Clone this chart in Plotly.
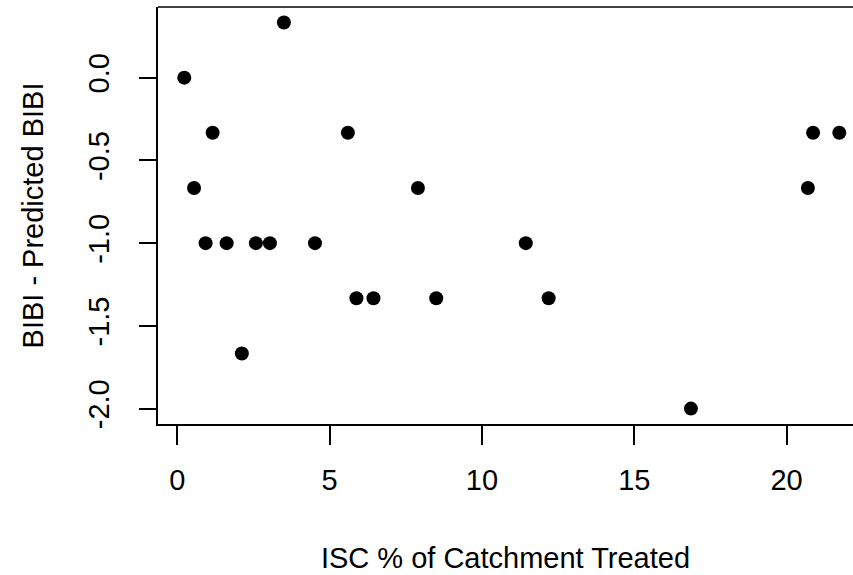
import plotly.graph_objects as go

# Data
isc_pct_treated = [0.23, 0.55, 0.93, 1.16, 1.62, 2.12, 2.58, 3.04, 3.50, 4.52,
                   5.60, 5.88, 6.44, 7.90, 8.50, 11.44, 12.19, 16.86, 20.70, 20.87, 21.73]
bibi_minus_pred = [0.0, -0.667, -1.0, -0.333, -1.0, -1.667, -1.0, -1.0, 0.333, -1.0,
                   -0.333, -1.333, -1.333, -0.667, -1.333, -1.0, -1.333, -2.0, -0.667, -0.333, -0.333]

x_ticks = [0, 5, 10, 15, 20]
x_tick_labels = ["0", "5", "10", "15", "20"]
y_ticks = [0.0, -0.5, -1.0, -1.5, -2.0]
y_tick_labels = ["0.0", "-0.5", "-1.0", "-1.5", "-2.0"]

x_title = "ISC % of Catchment Treated"
y_title = "BIBI - Predicted BIBI"

FONT = "Liberation Sans, Arial, sans-serif"
FS = 29
LW = 1.6

fig = go.Figure()
fig.add_trace(go.Scatter(
    x=isc_pct_treated, y=bibi_minus_pred, mode="markers",
    marker=dict(color="black", size=14, line=dict(width=0)),
    showlegend=False, hoverinfo="x+y",
))

fig.update_layout(
    width=853, height=575,
    margin=dict(l=158, r=0, t=7, b=151),
    paper_bgcolor="white", plot_bgcolor="white",
    font=dict(family=FONT, size=FS, color="black"),
    xaxis=dict(
        range=[-0.633, 22.18], tickmode="array", tickvals=x_ticks, ticktext=x_tick_labels,
        ticks="outside", ticklen=19, tickwidth=LW, tickcolor="black",
        showline=True, linecolor="black", linewidth=LW, mirror=False,
        showgrid=False, zeroline=False, ticklabelstandoff=10,
        tickfont=dict(family=FONT, size=FS, color="black"),
        title=dict(text=x_title, font=dict(family=FONT, size=FS, color="black"), standoff=53),
    ),
    yaxis=dict(
        range=[-2.093, 0.427], tickmode="array", tickvals=y_ticks, ticktext=y_tick_labels,
        ticks="outside", ticklen=17, tickwidth=LW, tickcolor="black", tickangle=-90,
        showline=True, linecolor="black", linewidth=LW, mirror=False,
        showgrid=False, zeroline=False, ticklabelstandoff=19,
        tickfont=dict(family=FONT, size=FS, color="black"),
        title=dict(text=y_title, font=dict(family=FONT, size=FS, color="black"), standoff=30),
    ),
    shapes=[dict(type="line", xref="paper", yref="paper", x0=0, x1=1, y0=1, y1=1,
                 line=dict(color="black", width=LW))],
)

fig.write_html("out.html", config={"displayModeBar": False},
               post_script="document.body.style.margin='0';document.body.style.overflow='hidden';")
